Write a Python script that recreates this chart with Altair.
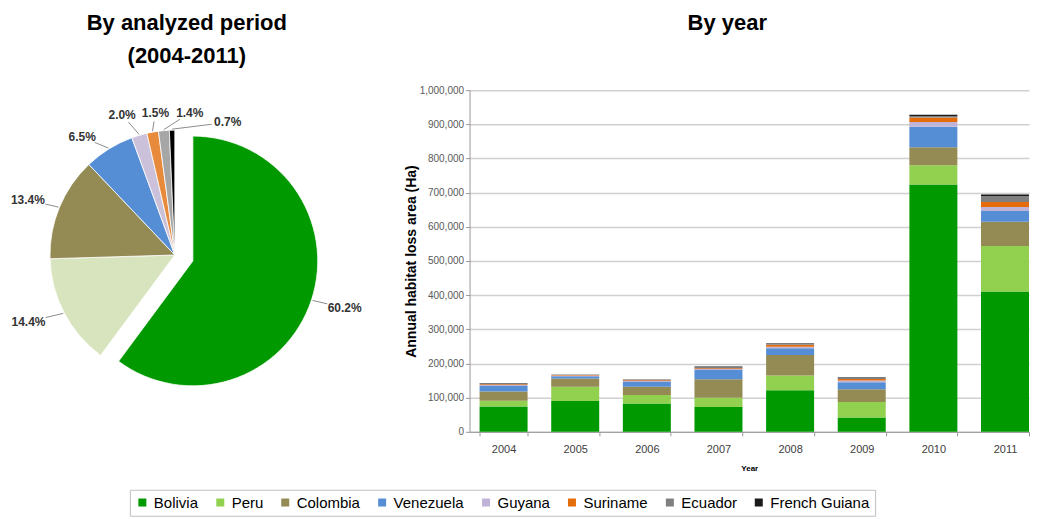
import altair as alt
import pandas as pd
import numpy as np

# ---------------- data ----------------
years = ["2004", "2005", "2006", "2007", "2008", "2009", "2010", "2011"]
countries = ["Bolivia", "Peru", "Colombia", "Venezuela", "Guyana", "Suriname",
             "Ecuador", "French Guiana"]

bolivia = [74000, 90000, 83000, 73000, 122000, 42000, 724000, 411000]
peru = [17000, 42000, 25000, 27000, 43000, 45000, 56000, 133000]
colombia = [27000, 24000, 24000, 54000, 60000, 38000, 53000, 71000]
venezuela = [16000, 7000, 14000, 27000, 20000, 20000, 60000, 31000]
guyana = [3000, 2000, 3000, 3000, 4000, 5000, 14000, 12000]
suriname = [2500, 1500, 2000, 2000, 6000, 5000, 13000, 15000]
ecuador = [1500, 1000, 1500, 3000, 3000, 3000, 4000, 17000]
french_guiana = [1000, 500, 500, 2000, 1000, 2000, 4000, 5000]

pie_pct = [60.2, 14.4, 13.4, 6.5, 2.0, 1.5, 1.4, 0.7]

bar_colors = ["#009900", "#92D050", "#948A54", "#558ED5", "#C0B3D8",
              "#E46C0A", "#808080", "#1A1A1A"]
pie_colors = ["#009900", "#D7E4BD", "#948A54", "#558ED5", "#CCC1DA",
              "#E88A3C", "#A6A6A6", "#000000"]

# ---------------- layout constants ----------------
FONT = "Liberation Sans"
PIE_W, PIE_H = 334, 330
R = 125
EXPLODE = 19
label_angle_deg = [107.3, -114.5, -69.5, -38.2, -20.6, -7.8, 6.0, 21.7]
label_radius = [178, 161, 157, 150, 150, 143, 143, 143]

# ---------------- bar table ----------------
series = [bolivia, peru, colombia, venezuela, guyana, suriname, ecuador, french_guiana]
rows = []
for ci, (c, vals) in enumerate(zip(countries, series)):
    for y, v in zip(years, vals):
        rows.append({"year": y, "country": c, "value": v, "idx": ci})
bar_df = pd.DataFrame(rows)

# ---------------- pie table ----------------
pct = np.array(pie_pct)
total = pct.sum()
end = np.cumsum(pct)
start = end - pct
mid = (start + pct / 2) / total * 2 * np.pi

cx = np.zeros(len(pct))
cy = np.zeros(len(pct))
cx[0] = EXPLODE * np.sin(mid[0])
cy[0] = -EXPLODE * np.cos(mid[0])  # down positive

la = np.radians(label_angle_deg)
lr = np.array(label_radius, dtype=float)
lx = lr * np.sin(la)
ly = -lr * np.cos(la)

ax = cx + (R + 1) * np.sin(mid)
ay = cy - (R + 1) * np.cos(mid)

labels = [f"{p:.1f}%" for p in pie_pct]
bx, by = [], []
for i in range(len(pct)):
    dx, dy = ax[i] - lx[i], ay[i] - ly[i]
    n = np.hypot(dx, dy)
    ux, uy = dx / n, dy / n
    hw = len(labels[i]) * 3.6 + 2
    hh = 8.0
    d = 1.0 / np.sqrt((ux / hw) ** 2 + (uy / hh) ** 2)
    d = min(d, n)
    bx.append(lx[i] + ux * d)
    by.append(ly[i] + uy * d)

pie_df = pd.DataFrame({
    "country": countries, "pct": pct, "start": start, "end": end,
    "color": pie_colors, "cx": cx, "cy": cy, "lx": lx, "ly": ly,
    "ax": ax, "ay": ay, "bx": bx, "by": by, "label": labels,
})

xs = alt.Scale(domain=[-PIE_W / 2, PIE_W / 2], range=[0, PIE_W])
ys = alt.Scale(domain=[-PIE_H / 2, PIE_H / 2], reverse=True)

base = alt.Chart(pie_df)
arcs = base.mark_arc(radius=R, stroke="white", strokeWidth=0.8).encode(
    theta=alt.Theta("start:Q", scale=alt.Scale(domain=[0, float(total)], range=[0, 2 * np.pi])),
    theta2="end:Q",
    x=alt.X("cx:Q", scale=xs, axis=None),
    y=alt.Y("cy:Q", scale=ys, axis=None),
    fill=alt.Fill("color:N", scale=None, legend=None),
)
leaders = base.mark_rule(color="#8c8c8c", strokeWidth=1).encode(
    x=alt.X("ax:Q", scale=xs, axis=None),
    y=alt.Y("ay:Q", scale=ys, axis=None),
    x2="bx:Q", y2="by:Q",
)
texts = base.mark_text(font=FONT, fontSize=12, fontWeight="bold", color="#333333").encode(
    x=alt.X("lx:Q", scale=xs, axis=None),
    y=alt.Y("ly:Q", scale=ys, axis=None),
    text="label:N",
)
pie = alt.layer(arcs, leaders, texts).properties(
    width=PIE_W, height=PIE_H,
    title=alt.TitleParams(["By analyzed period", "(2004-2011)"], font=FONT, fontSize=22,
                          fontWeight="bold", lineHeight=33, anchor="middle", offset=22,
                          dx=12, color="#000000"),
)

bars = alt.Chart(bar_df).mark_bar().encode(
    x=alt.X("year:N", title="Year",
            scale=alt.Scale(paddingInner=0.33, paddingOuter=0.07, align=1),
            axis=alt.Axis(labelAngle=0, tickBand="extent", tickSize=4, tickColor="#999999",
                          domainColor="#999999", labelFont=FONT, labelFontSize=11,
                          labelColor="#404040", titleFont=FONT, titleFontSize=8,
                          titleFontWeight="bold", titlePadding=10, labelPadding=8)),
    y=alt.Y("value:Q", stack="zero", title="Annual habitat loss area (Ha)",
            scale=alt.Scale(domain=[0, 1000000]),
            axis=alt.Axis(format=",d", values=list(range(0, 1000001, 100000)),
                          tickSize=4, tickColor="#999999", domainColor="#999999",
                          gridColor="#D0D0D0", gridWidth=1.5, labelFont=FONT,
                          labelFontSize=10, labelColor="#595959", titleFont=FONT,
                          titleFontSize=14, titleFontWeight="bold", titleColor="#000000",
                          titlePadding=1)),
    color=alt.Color("country:N", scale=alt.Scale(domain=countries, range=bar_colors),
                    legend=alt.Legend(title=None)),
    order=alt.Order("idx:Q", sort="ascending"),
).properties(
    width=560, height=342,
    title=alt.TitleParams("By year", font=FONT, fontSize=22, fontWeight="bold",
                          anchor="middle", offset=50, dx=-22, color="#000000"),
)

chart = alt.hconcat(pie, bars, spacing=42).properties(
    padding={"top": 4, "left": 0, "right": 0, "bottom": 0}
).configure_view(
    stroke=None
).configure_legend(
    orient="none", legendX=122, legendY=400, direction="horizontal",
    strokeColor="#BFBFBF", padding=5, symbolType="square", symbolSize=64,
    symbolStrokeWidth=0, labelFont=FONT, labelFontSize=15, labelColor="#000000",
    columnPadding=14, labelOffset=4, cornerRadius=0,
)

chart.save("out.html", embed_options={"renderer": "svg", "actions": False})
